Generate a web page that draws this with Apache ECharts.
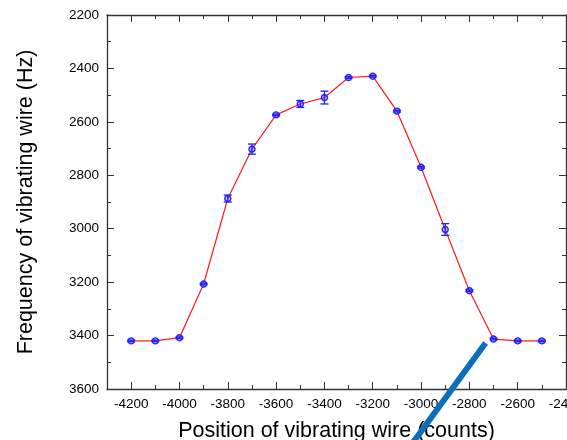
<!DOCTYPE html>
<html>
<head>
<meta charset="utf-8">
<script src="https://cdn.jsdelivr.net/npm/echarts@6/dist/echarts.min.js"></script>
<style>
  html, body { margin: 0; padding: 0; background: #fff; }
  #main { width: 567px; height: 440px; }
</style>
</head>
<body>
<div id="main"></div>
<script>
// wire position (counts)
const positions = [-4200, -4100, -4000, -3900, -3800, -3700, -3600, -3500, -3400,
  -3300, -3200, -3100, -3000, -2900, -2800, -2700, -2600, -2500];
// frequency (Hz)
const frequency = [3420, 3420, 3408, 3207, 2887, 2702, 2574, 2533, 2509,
  2434, 2429, 2560, 2770, 3003, 3232, 3413, 3420, 3420];
// half error bar (Hz)
const errors = [3, 3, 3, 3, 13, 19, 3, 13, 24, 3, 3, 3, 3, 22, 3, 3, 3, 3];
const xTicks = [-4200, -4000, -3800, -3600, -3400, -3200, -3000, -2800, -2600, -2400];
// annotation stroke, in data units
const pointer = [[-2733, 3428], [-3088, 3868]];

const axisColor = '#333';
const font = 'Liberation Sans, Arial, sans-serif';
const plain = (v) => String(v);

const chart = echarts.init(document.getElementById('main'));

const baseX = (pos) => ({
  type: 'value', position: pos, min: -4300, max: -2400,
  splitLine: { show: false }
});

const option = {
  animation: false,
  grid: { left: 107, top: 15, right: 1, bottom: 51, containLabel: false, outerBoundsMode: 'none' },
  xAxis: [
    Object.assign(baseX('bottom'), {
      interval: 100,
      name: 'Position of vibrating wire (counts)',
      nameLocation: 'middle', nameGap: 31,
      nameTextStyle: { fontFamily: font, fontSize: 21.5, color: '#000' },
      axisLine: { lineStyle: { color: axisColor, width: 1.3 } },
      axisTick: { inside: true, length: 4, lineStyle: { color: axisColor } },
      axisLabel: { customValues: xTicks, formatter: plain, margin: 8, fontFamily: font, fontSize: 13.5, color: '#000' }
    }),
    Object.assign(baseX('top'), {
      interval: 100,
      axisLine: { onZero: false, lineStyle: { color: axisColor, width: 1.3 } },
      axisTick: { inside: true, length: 4, lineStyle: { color: axisColor } },
      axisLabel: { show: false }
    }),
    Object.assign(baseX('bottom'), {
      axisLine: { show: false },
      axisTick: { inside: true, length: 7, customValues: xTicks, lineStyle: { color: axisColor } },
      axisLabel: { show: false }
    }),
    Object.assign(baseX('top'), {
      axisLine: { show: false },
      axisTick: { inside: true, length: 7, customValues: xTicks, lineStyle: { color: axisColor } },
      axisLabel: { show: false }
    })
  ],
  yAxis: [
    {
      type: 'value', inverse: true, min: 2200, max: 3600, interval: 200,
      name: 'Frequency of vibrating wire (Hz)',
      nameLocation: 'middle', nameGap: 70,
      nameTextStyle: { fontFamily: font, fontSize: 21.5, color: '#000' },
      splitLine: { show: false },
      axisLine: { lineStyle: { color: axisColor, width: 1.3 } },
      axisTick: { inside: true, length: 7, lineStyle: { color: axisColor } },
      minorTick: { show: true, splitNumber: 2, length: 4, lineStyle: { color: axisColor } },
      axisLabel: { formatter: plain, margin: 8, fontFamily: font, fontSize: 13.5, color: '#000' }
    },
    {
      type: 'value', position: 'right', inverse: true, min: 2200, max: 3600, interval: 200,
      splitLine: { show: false },
      axisLine: { show: true, onZero: false, lineStyle: { color: axisColor, width: 1.3 } },
      axisTick: { inside: true, length: 7, lineStyle: { color: axisColor } },
      minorTick: { show: true, splitNumber: 2, length: 4, lineStyle: { color: axisColor } },
      axisLabel: { show: false }
    }
  ],
  series: [
    {
      type: 'line',
      data: positions.map((x, i) => [x, frequency[i]]),
      symbol: 'circle', symbolSize: 6,
      itemStyle: { color: 'rgba(90,90,255,0.35)', borderColor: '#1f1fff', borderWidth: 1.4 },
      lineStyle: { color: '#ff1a1a', width: 1.2 },
      z: 3
    },
    {
      type: 'custom',
      data: positions.map((x, i) => [x, frequency[i] - errors[i], frequency[i] + errors[i]]),
      renderItem: function (params, api) {
        const a = api.coord([api.value(0), api.value(1)]);
        const b = api.coord([api.value(0), api.value(2)]);
        const hw = 4;
        const st = { stroke: '#1f1fff', lineWidth: 1.3 };
        return {
          type: 'group',
          children: [
            { type: 'line', shape: { x1: a[0], y1: a[1], x2: b[0], y2: b[1] }, style: st },
            { type: 'line', shape: { x1: a[0] - hw, y1: a[1], x2: a[0] + hw, y2: a[1] }, style: st },
            { type: 'line', shape: { x1: b[0] - hw, y1: b[1], x2: b[0] + hw, y2: b[1] }, style: st }
          ]
        };
      },
      z: 4
    },
    {
      type: 'line',
      data: pointer,
      symbol: 'none',
      clip: false,
      silent: true,
      lineStyle: { color: '#0a6ebd', width: 6, cap: 'butt' },
      z: 5
    }
  ]
};

chart.setOption(option);
</script>
</body>
</html>
